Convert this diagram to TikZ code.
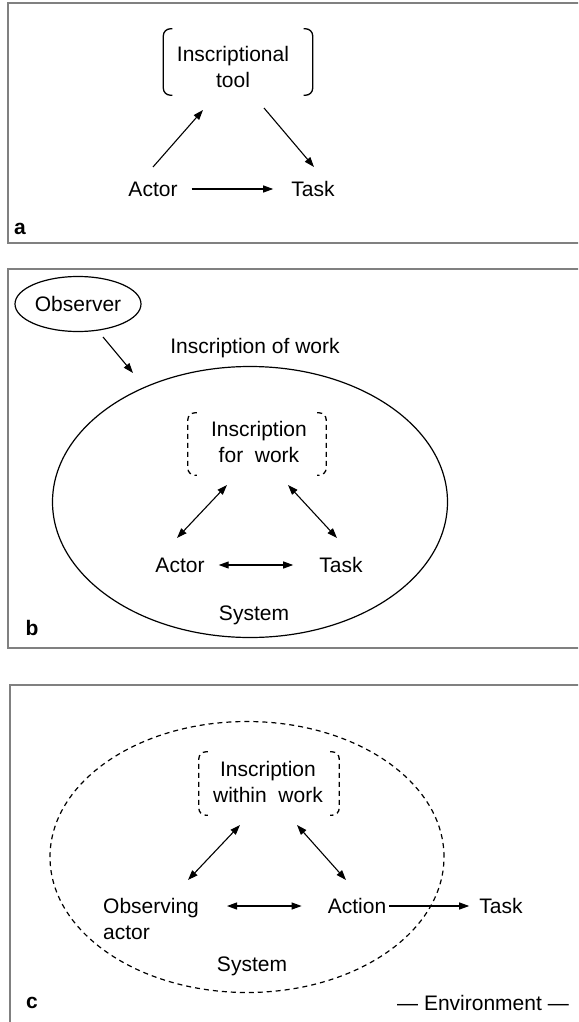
\documentclass[tikz,border=0pt]{standalone}
\usepackage{fontspec}
\setmainfont{Liberation Sans}
\usetikzlibrary{arrows.meta,shapes.geometric}
\begin{document}
\begin{tikzpicture}[x=1pt,y=-1pt,
  lbl/.style={font=\fontsize{21}{26}\selectfont, inner sep=0pt, align=center},
  panel/.style={font=\fontsize{21}{25}\selectfont\bfseries, inner sep=0pt},
  arr/.style={-{Triangle[length=10pt,width=7pt]}, line width=1.1pt},
  darr/.style={{Triangle[length=10pt,width=7pt]}-{Triangle[length=10pt,width=7pt]}, line width=1.1pt},
  frame/.style={draw=black!50, line width=1.5pt},
  bracket/.style={line width=1.3pt, rounded corners=7pt},
  dbracket/.style={line width=1.3pt, rounded corners=7pt, dash pattern=on 5pt off 4pt}]
\useasboundingbox (0,0) rectangle (578,1022);
\clip (0,0) rectangle (578,1022);
\fill[white] (0,0) rectangle (578,1022);

% ---------------- panel a ----------------
\draw[frame] (8,3) rectangle (620,243);
\node[inner sep=0pt, minimum width=149pt, minimum height=66pt] (toolbox) at (238,62) {};
\node[lbl] (tool) at (233,67) {Inscriptional\\tool};
\draw[bracket] ([xshift=9pt]toolbox.north west) -- (toolbox.north west) -- (toolbox.south west) -- ([xshift=9pt]toolbox.south west);
\draw[bracket] ([xshift=-9pt]toolbox.north east) -- (toolbox.north east) -- (toolbox.south east) -- ([xshift=-9pt]toolbox.south east);
\node[lbl] (actorA) at (153,189) {Actor};
\node[lbl] (taskA) at (313,189) {Task};
\coordinate (a1s) at (153,167);
\coordinate (a1e) at (203,110);
\coordinate (a2s) at (264,108);
\coordinate (a2e) at (314,167);
\draw[arr] (a1s) -- (a1e);
\draw[arr] (a2s) -- (a2e);
\draw[arr, shorten <=14pt, shorten >=18pt] (actorA.east) -- (taskA.west);
\node[panel] (la) at (20,229) {a};

% ---------------- panel b ----------------
\draw[frame] (8,269) rectangle (620,648);
\node[draw, ellipse, line width=1.2pt, minimum width=126pt, minimum height=55pt, lbl] (obs) at (78,304) {Observer};
\node[lbl] (iow) at (255,348) {Inscription of work};
\node[draw, ellipse, line width=1.2pt, minimum width=395pt, minimum height=271pt] (sysB) at (250,502) {};
\coordinate (o1s) at (103,337);
\coordinate (o1e) at (133,373);
\draw[arr] (o1s) -- (o1e);
\node[inner sep=0pt, minimum width=138pt, minimum height=62pt] (ifwbox) at (257,444) {};
\node[lbl] (ifw) at (259,442) {Inscription\\for~~work};
\draw[dbracket] ([xshift=9pt]ifwbox.north west) -- (ifwbox.north west) -- (ifwbox.south west) -- ([xshift=9pt]ifwbox.south west);
\draw[dbracket] ([xshift=-9pt]ifwbox.north east) -- (ifwbox.north east) -- (ifwbox.south east) -- ([xshift=-9pt]ifwbox.south east);
\node[lbl] (actorB) at (180,565) {Actor};
\node[lbl] (taskB) at (341,565) {Task};
\coordinate (b1s) at (227,485);
\coordinate (b1e) at (177,538);
\coordinate (b2s) at (288,485);
\coordinate (b2e) at (337,538);
\draw[darr] (b1s) -- (b1e);
\draw[darr] (b2s) -- (b2e);
\draw[darr, shorten <=14pt, shorten >=26pt] (actorB.east) -- (taskB.west);
\node[lbl] (sysBl) at (254,615) {System};
\node[panel] (lb) at (32,628) {b};

% ---------------- panel c ----------------
\draw[frame] (10,685) rectangle (620,1060);
\node[draw, ellipse, line width=1.2pt, dash pattern=on 5pt off 4pt, minimum width=394pt, minimum height=271pt] (sysC) at (247,857) {};
\node[inner sep=0pt, minimum width=140pt, minimum height=63pt] (iwwbox) at (269,783.5) {};
\node[lbl] (iww) at (268,782) {Inscription\\within~~work};
\draw[dbracket] ([xshift=9pt]iwwbox.north west) -- (iwwbox.north west) -- (iwwbox.south west) -- ([xshift=9pt]iwwbox.south west);
\draw[dbracket] ([xshift=-9pt]iwwbox.north east) -- (iwwbox.north east) -- (iwwbox.south east) -- ([xshift=-9pt]iwwbox.south east);
\node[lbl, align=left, anchor=west] (obsact) at (103,919) {Observing\\actor};
\node[lbl] (action) at (357,906) {Action};
\node[lbl] (taskC) at (501,906) {Task};
\coordinate (c1s) at (240,825);
\coordinate (c1e) at (188,880);
\coordinate (c2s) at (297,825);
\coordinate (c2e) at (346,880);
\draw[darr] (c1s) -- (c1e);
\draw[darr] (c2s) -- (c2e);
\coordinate (oaE) at (227,906);
\draw[darr] (oaE) -- ([xshift=-26pt]action.west);
\draw[arr, shorten <=3pt, shorten >=10pt] (action.east) -- (taskC.west);
\node[lbl] (sysCl) at (252,966) {System};
\node[panel] (lc) at (32,1003) {c};
\node[lbl] (env) at (483,1003) {--- Environment ---};
\end{tikzpicture}
\end{document}
